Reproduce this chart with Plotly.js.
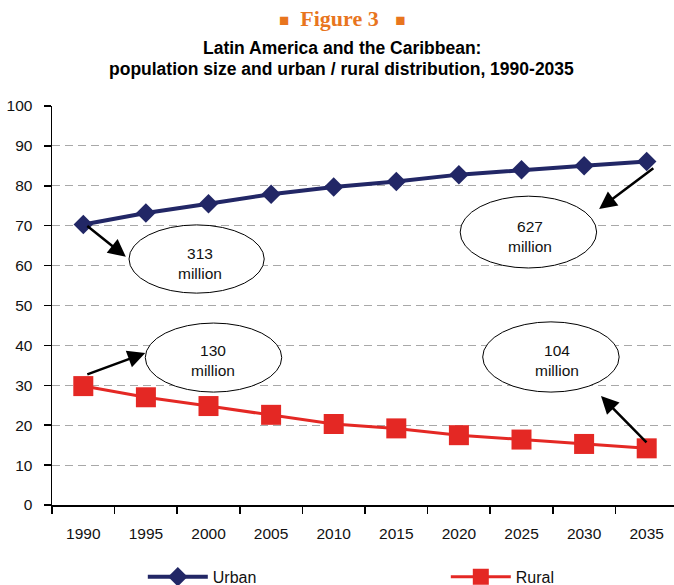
<!DOCTYPE html>
<html>
<head>
<meta charset="utf-8">
<script src="https://cdn.plot.ly/plotly-3.0.1.min.js"></script>
<style>html,body{margin:0;padding:0;background:#fff;}</style>
</head>
<body>
<div id="chart" style="width:674px;height:585px;"></div>
<script>
const years = ["1990","1995","2000","2005","2010","2015","2020","2025","2030","2035"];
const urban = [70.3, 73.2, 75.5, 77.9, 79.7, 81.1, 82.8, 84.0, 85.0, 86.1];
const rural = [29.8, 27.0, 24.8, 22.6, 20.3, 19.2, 17.5, 16.4, 15.3, 14.2];
const yTicks = [0,10,20,30,40,50,60,70,80,90,100];
const seriesNames = ["Urban", "Rural"];
const figureLabel = "Figure 3";
const titleLines = ["Latin America and the Caribbean:", "population size and urban / rural distribution, 1990-2035"];
const callouts = ["313<br>million", "627<br>million", "130<br>million", "104<br>million"];

const FONT = "'Liberation Sans', Arial, sans-serif";

const traces = [
  {x: years, y: urban, name: seriesNames[0], type: "scatter", mode: "lines+markers",
   line: {color: "#222766", width: 4},
   marker: {symbol: "diamond", size: 15, color: "#222766"}},
  {x: years, y: rural, name: seriesNames[1], type: "scatter", mode: "lines+markers",
   line: {color: "#E42824", width: 3},
   marker: {symbol: "square", size: 20, color: "#E42824"}}
];

// ellipse boxes (category index / value coordinates)
const ell = [
  {x0: 0.73, x1: 2.89, y0: 53.1, y1: 70.2},
  {x0: 6.02, x1: 8.20, y0: 59.4, y1: 77.4},
  {x0: 0.99, x1: 3.17, y0: 28.3, y1: 45.6},
  {x0: 6.38, x1: 8.56, y0: 28.3, y1: 45.9}
];
const shapes = ell.map(e => ({type: "circle", xref: "x", yref: "y", x0: e.x0, x1: e.x1, y0: e.y0, y1: e.y1,
  line: {color: "#000", width: 1}, fillcolor: "rgba(255,255,255,1)", layer: "above"}));

const arrows = [
  {ax: 0.04, ay: 70.2, x: 0.68, y: 62.2},
  {ax: 9.13, ay: 84.7, x: 8.24, y: 74.2},
  {ax: 0.04, ay: 32.6, x: 0.99, y: 38.1},
  {ax: 9.02, ay: 15.3, x: 8.27, y: 27.3}
];
const textPos = [
  {x: 1.86, y: 60.5},
  {x: 7.14, y: 67.3},
  {x: 2.07, y: 36.2},
  {x: 7.57, y: 36.2}
];

const annotations = [];
arrows.forEach(a => annotations.push({xref: "x", yref: "y", axref: "x", ayref: "y",
  x: a.x, y: a.y, ax: a.ax, ay: a.ay, text: "", showarrow: true,
  arrowhead: 2, arrowsize: 1.4, arrowwidth: 2.5, arrowcolor: "#000"}));
textPos.forEach((t, i) => annotations.push({xref: "x", yref: "y", x: t.x, y: t.y, text: callouts[i],
  showarrow: false, font: {family: FONT, size: 15.5, color: "#111"}}));
annotations.push({xref: "paper", yref: "paper", x: 0.466, y: 1.0, yshift: 88, xanchor: "center", yanchor: "middle",
  showarrow: false,
  text: "<span style='font-size:17px'>■</span>  <b>" + figureLabel + "</b>   <span style='font-size:17px'>■</span>",
  font: {family: "'Liberation Serif', 'DejaVu Serif', serif", size: 22, color: "#E8751E"}});
annotations.push({xref: "paper", yref: "paper", x: 0.466, y: 1.0, yshift: 58.5, xanchor: "center", yanchor: "middle",
  showarrow: false, text: "<b>" + titleLines[0] + "</b>",
  font: {family: FONT, size: 17.5, color: "#000"}});
annotations.push({xref: "paper", yref: "paper", x: 0.466, y: 1.0, yshift: 37.5, xanchor: "center", yanchor: "middle",
  showarrow: false, text: "<b>" + titleLines[1] + "</b>",
  font: {family: FONT, size: 17.5, color: "#000"}});

const layout = {
  width: 674, height: 585,
  margin: {l: 52, r: 0, t: 106, b: 80, autoexpand: false},
  paper_bgcolor: "#fff", plot_bgcolor: "#fff",
  showlegend: true,
  legend: {orientation: "h", x: 0.146, xanchor: "left", y: -0.18, yanchor: "middle",
    entrywidth: 228, entrywidthmode: "pixels", itemwidth: 60,
    font: {family: FONT, size: 16, color: "#111"}},
  xaxis: {type: "category", range: [-0.5, 9.436], showgrid: false, zeroline: false,
    showline: true, linecolor: "#000", linewidth: 1.5,
    ticks: "outside", tickson: "boundaries", ticklen: 7, tickcolor: "#000", tickwidth: 1.5,
    ticklabelstandoff: 14,
    tickfont: {family: FONT, size: 15.5, color: "#111"}},
  yaxis: {range: [0, 100], tickvals: yTicks, showgrid: true, gridcolor: "#A8A8A8", griddash: "8px,5px", gridwidth: 1,
    zeroline: false, showline: true, linecolor: "#000", linewidth: 1.5,
    ticks: "outside", ticklen: 7, tickcolor: "#000", tickwidth: 1.5, ticklabelstandoff: 8,
    tickfont: {family: FONT, size: 15.5, color: "#111"}},
  shapes: shapes,
  annotations: annotations
};

Plotly.newPlot("chart", traces, layout, {displayModeBar: false, staticPlot: true});
</script>
</body>
</html>
